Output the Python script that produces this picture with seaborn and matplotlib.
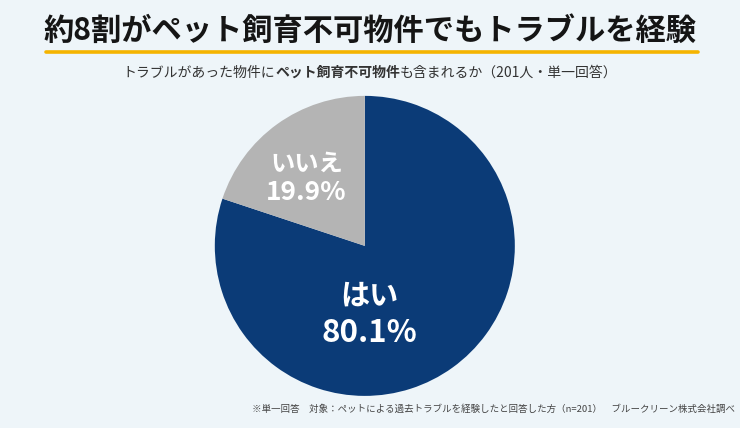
import matplotlib
matplotlib.use("Agg")
import matplotlib.pyplot as plt
import seaborn as sns

answers = ["はい", "いいえ"]
shares = [80.1, 19.9]
colors = ["#0b3b77", "#b4b4b4"]

title = "約8割がペット飼育不可物件でもトラブルを経験"
subtitle_parts = [("トラブルがあった物件に", "normal"),
                  ("ペット飼育不可物件", "bold"),
                  ("も含まれるか（201人・単一回答）", "normal")]
note = "※単一回答　対象：ペットによる過去トラブルを経験したと回答した方（n=201）　ブルークリーン株式会社調べ"

sns.set_theme(style="white")
plt.rcParams["font.family"] = ["Noto Sans CJK JP", "DejaVu Sans"]
bg = "#eef5f9"

fig = plt.figure(figsize=(7.4, 4.28), dpi=100, facecolor=bg)

# title + yellow underline
fig.text(0.5, 0.928, title, ha="center", va="center", fontsize=21.8,
         fontweight="bold", color="#151515")
fig.add_artist(plt.Line2D([0.062, 0.943], [0.879, 0.879], color="#f5b400",
                          lw=2.6, transform=fig.transFigure))

# subtitle with bold middle part
renderer = fig.canvas.get_renderer()
pieces = []
for txt, w in subtitle_parts:
    pieces.append(fig.text(0, 0.83, txt, fontsize=10, fontweight=w,
                           color="#333333", va="center"))
widths = [p.get_window_extent(renderer).width / fig.bbox.width for p in pieces]
x = 0.5 - sum(widths) / 2
for p, wd in zip(pieces, widths):
    p.set_x(x)
    x += wd

# pie
ax = fig.add_axes([0.286, 0.068, 0.414, 0.715])
ax.set_facecolor(bg)
wedges, _ = ax.pie(shares, colors=colors, startangle=90, counterclock=False,
                   wedgeprops=dict(linewidth=0))
ax.set_aspect("equal")
ax.set_xlim(-1.02, 1.02)
ax.set_ylim(-1.02, 1.02)
ax.axis("off")

# x, y of name, y of percent, name size, percent size
label_pos = {"はい": (0.03, -0.33, -0.58, 21, 22.5),
             "いいえ": (-0.39, 0.55, 0.355, 17.5, 19)}
for name, val in zip(answers, shares):
    lx, ly1, ly2, fs1, fs2 = label_pos[name]
    ax.text(lx, ly1, name, ha="center", va="center", color="white",
            fontsize=fs1, fontweight="bold")
    ax.text(lx, ly2, f"{val:.1f}%", ha="center", va="center", color="white",
            fontsize=fs2, fontweight="bold")

fig.text(0.993, 0.044, note, ha="right", va="center", fontsize=6.8,
         color="#444444")

fig.savefig("out.png", dpi=100, facecolor=bg)
